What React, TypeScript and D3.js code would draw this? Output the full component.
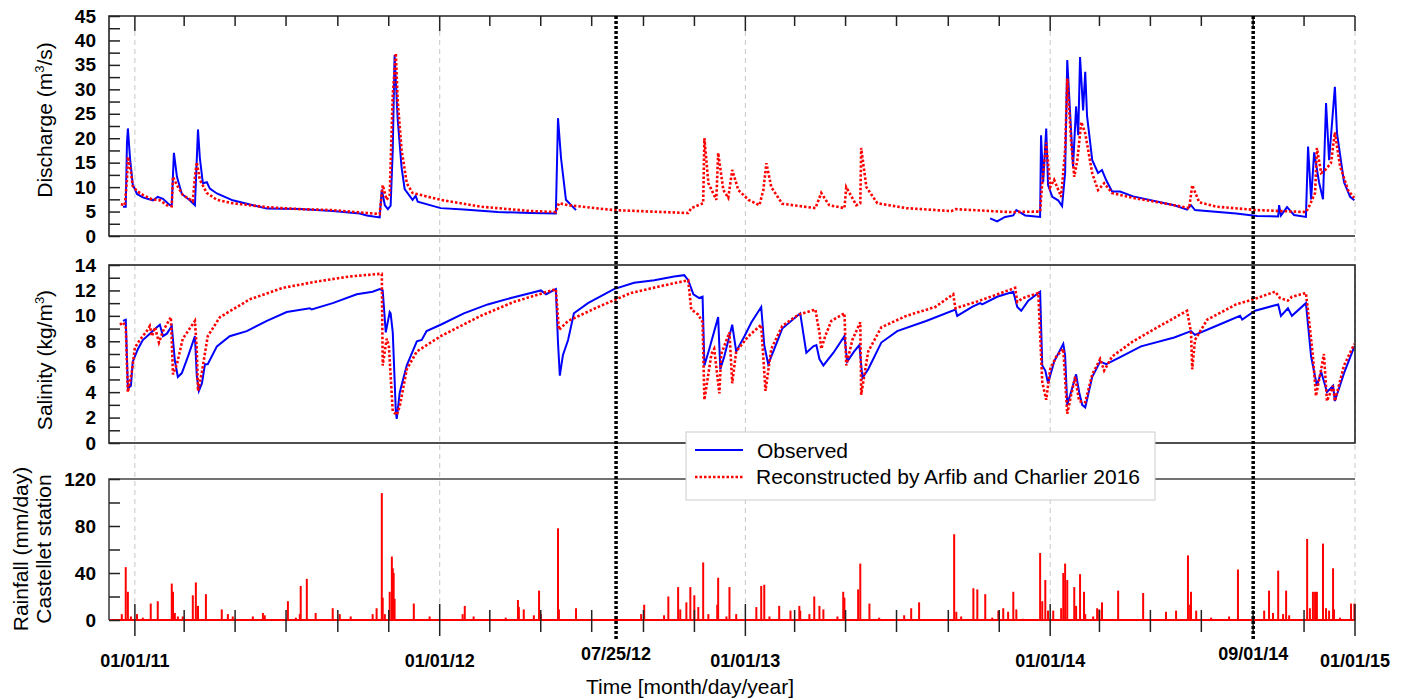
import { useEffect, useRef } from "react";
import * as d3 from "d3";

// time is stored as decimal years
const dischargeObservedA = [
  [2010.961, 6.0], [2010.970, 6.0], [2010.974, 19], [2010.977, 22], [2010.984, 15.9], [2010.993, 10.5],
  [2011.007, 8.6], [2011.026, 7.9], [2011.059, 7.3], [2011.075, 8.0], [2011.092, 7.6], [2011.115, 6.3],
  [2011.121, 6.4], [2011.128, 17], [2011.138, 12.1], [2011.154, 8.6], [2011.180, 7.3], [2011.197, 6.3],
  [2011.207, 21.8], [2011.213, 16], [2011.223, 10.8], [2011.236, 11.0], [2011.246, 9.7], [2011.269, 8.7],
  [2011.321, 7.3], [2011.387, 6.3], [2011.433, 5.6], [2011.541, 5.5], [2011.649, 5.1], [2011.738, 4.6],
  [2011.761, 4.2], [2011.803, 3.8], [2011.810, 9.5], [2011.820, 6.3], [2011.830, 5.5], [2011.839, 6.2],
  [2011.846, 17.6], [2011.852, 37], [2011.862, 24], [2011.875, 14], [2011.885, 9.6], [2011.911, 7.4],
  [2011.921, 8.2], [2011.928, 7.0], [2012.003, 5.7], [2012.079, 5.4], [2012.190, 4.9], [2012.298, 4.7],
  [2012.380, 4.6], [2012.387, 24.1], [2012.397, 15.9], [2012.413, 7.4], [2012.446, 5.3],
];

const dischargeObservedB = [
  [2013.803, 3.6], [2013.826, 3.0], [2013.852, 3.9], [2013.879, 4.2], [2013.889, 5.3], [2013.918, 4.2],
  [2013.967, 3.9], [2013.970, 20.6], [2013.977, 11.0], [2013.987, 22], [2013.993, 10.4], [2014.007, 8.0],
  [2014.026, 7.3], [2014.039, 6.1], [2014.049, 12.9], [2014.056, 36.0], [2014.069, 21], [2014.075, 14.2],
  [2014.085, 26.5], [2014.092, 20.6], [2014.098, 36.6], [2014.108, 25.7], [2014.115, 33.6], [2014.121, 24.5],
  [2014.138, 15.5], [2014.157, 12.9], [2014.170, 13.5], [2014.184, 11.4], [2014.203, 9.1], [2014.229, 9.1],
  [2014.272, 8.1], [2014.407, 6.3], [2014.449, 5.4], [2014.462, 6.3], [2014.475, 5.3], [2014.610, 4.6],
  [2014.679, 4.1], [2014.748, 4.0], [2014.751, 6.3], [2014.757, 4.2], [2014.777, 5.9], [2014.800, 4.3],
  [2014.839, 3.9], [2014.846, 18.3], [2014.856, 7.5], [2014.866, 17.1], [2014.882, 11], [2014.895, 7.5],
  [2014.905, 27.2], [2014.915, 15.5], [2014.934, 30.5], [2014.941, 21], [2014.964, 11], [2014.984, 8],
  [2014.998, 7.3],
];

const dischargeReconstructed = [
  [2010.954, 6.5], [2010.967, 6.3], [2010.974, 11.5], [2010.977, 16.2], [2010.987, 13.1], [2010.993, 10.2],
  [2011.007, 9.2], [2011.026, 8.4], [2011.056, 7.5], [2011.082, 7.3], [2011.105, 6.3], [2011.121, 6.1],
  [2011.125, 12.1], [2011.138, 10.4], [2011.157, 8.4], [2011.190, 7.1], [2011.197, 12.1], [2011.203, 15.1],
  [2011.213, 11.5], [2011.236, 8.8], [2011.269, 7.4], [2011.321, 6.7], [2011.433, 5.9], [2011.541, 5.5],
  [2011.649, 5.3], [2011.761, 4.7], [2011.803, 4.5], [2011.813, 10.4], [2011.826, 7.4], [2011.836, 8.4],
  [2011.846, 29], [2011.856, 37.4], [2011.862, 27.8], [2011.875, 17.6], [2011.892, 10.8], [2011.911, 8.8],
  [2012.003, 7.4], [2012.134, 6.0], [2012.298, 5.1], [2012.380, 4.9], [2012.390, 6.7], [2012.420, 6.3],
  [2012.570, 5.3], [2012.813, 4.7], [2012.823, 5.7], [2012.862, 6.7], [2012.866, 20], [2012.879, 10.8],
  [2012.905, 7.4], [2012.911, 17], [2012.928, 9.4], [2012.944, 7.8], [2012.957, 13.5], [2012.977, 9.4],
  [2013.010, 7.4], [2013.046, 6.3], [2013.059, 9.4], [2013.069, 14.9], [2013.085, 10], [2013.121, 6.6],
  [2013.230, 5.7], [2013.249, 8.8], [2013.275, 6.3], [2013.325, 5.7], [2013.331, 10], [2013.364, 6.3],
  [2013.377, 6.7], [2013.380, 18], [2013.397, 10], [2013.433, 6.7], [2013.528, 5.7], [2013.675, 5.1],
  [2013.689, 5.5], [2013.866, 4.9], [2013.967, 5.0], [2013.974, 11], [2013.987, 19.1], [2014.000, 10],
  [2014.013, 11.5], [2014.036, 8], [2014.049, 17.6], [2014.056, 32.2], [2014.069, 19], [2014.079, 12.1],
  [2014.089, 15.5], [2014.102, 23.3], [2014.115, 21], [2014.138, 12.8], [2014.157, 9.4], [2014.177, 10.8],
  [2014.203, 8.8], [2014.272, 7.8], [2014.407, 6.3], [2014.456, 5.7], [2014.466, 10.4], [2014.489, 6.9],
  [2014.544, 6.0], [2014.679, 5.3], [2014.839, 4.9], [2014.849, 6.0], [2014.869, 8.8], [2014.875, 18],
  [2014.889, 12.9], [2014.902, 13.5], [2014.921, 14.9], [2014.934, 21.2], [2014.951, 14.3], [2014.977, 9.4],
  [2014.997, 7.8],
];

const salinityObserved = [
  [2010.961, 9.6], [2010.970, 9.7], [2010.977, 4.3], [2010.987, 4.5], [2010.993, 6.4], [2011.010, 7.4],
  [2011.026, 8.1], [2011.049, 8.6], [2011.072, 9.1], [2011.082, 9.3], [2011.092, 8.4], [2011.105, 8.6],
  [2011.121, 9.2], [2011.131, 6.5], [2011.141, 5.2], [2011.154, 5.5], [2011.174, 6.8], [2011.197, 8.4],
  [2011.203, 5.3], [2011.210, 4.1], [2011.220, 4.7], [2011.230, 6.2], [2011.239, 6.2], [2011.269, 7.6],
  [2011.311, 8.4], [2011.367, 8.8], [2011.433, 9.6], [2011.498, 10.3], [2011.574, 10.6], [2011.580, 10.5],
  [2011.649, 11.0], [2011.728, 11.7], [2011.780, 11.9], [2011.803, 12.1], [2011.813, 12.0], [2011.823, 8.7],
  [2011.836, 10.3], [2011.839, 10.2], [2011.846, 8.7], [2011.856, 2.5], [2011.859, 1.9], [2011.869, 4.0],
  [2011.892, 6.1], [2011.925, 8.0], [2011.941, 8.1], [2011.957, 8.8], [2012.003, 9.3], [2012.079, 10.2],
  [2012.157, 10.9], [2012.233, 11.4], [2012.298, 11.8], [2012.331, 12.0], [2012.348, 11.7], [2012.380, 12.1],
  [2012.387, 7.9], [2012.393, 5.3], [2012.403, 6.9], [2012.420, 8.1], [2012.439, 10.2], [2012.485, 11.0],
  [2012.570, 12.1], [2012.636, 12.6], [2012.702, 12.8], [2012.767, 13.1], [2012.800, 13.2], [2012.813, 12.8],
  [2012.830, 11.7], [2012.849, 11.4], [2012.860, 11.5], [2012.866, 6.1], [2012.882, 7.4], [2012.911, 9.9],
  [2012.918, 5.8], [2012.931, 6.8], [2012.957, 9.3], [2012.970, 7.2], [2012.997, 8.4], [2013.020, 9.5],
  [2013.052, 10.7], [2013.062, 7.7], [2013.075, 6.2], [2013.095, 7.4], [2013.121, 9.0], [2013.180, 10.2],
  [2013.200, 7.1], [2013.223, 7.6], [2013.233, 7.7], [2013.243, 6.6], [2013.256, 6.1], [2013.289, 7.1],
  [2013.325, 8.4], [2013.334, 6.4], [2013.357, 7.2], [2013.374, 7.7], [2013.384, 5.1], [2013.403, 5.8],
  [2013.446, 7.9], [2013.498, 8.8], [2013.593, 9.6], [2013.689, 10.5], [2013.695, 10.0], [2013.744, 10.7],
  [2013.770, 11.0], [2013.777, 10.9], [2013.826, 11.5], [2013.879, 11.9], [2013.892, 10.7], [2013.905, 10.4],
  [2013.928, 11.2], [2013.967, 11.9], [2013.974, 6.1], [2013.984, 5.7], [2013.993, 4.7], [2014.013, 6.4],
  [2014.043, 7.8], [2014.049, 6.9], [2014.056, 3.0], [2014.072, 4.3], [2014.085, 5.4], [2014.095, 4.0],
  [2014.105, 3.0], [2014.115, 2.8], [2014.138, 5.2], [2014.164, 6.4], [2014.184, 6.2], [2014.233, 6.8],
  [2014.298, 7.6], [2014.407, 8.3], [2014.462, 8.8], [2014.475, 8.5], [2014.544, 9.2], [2014.623, 10.0],
  [2014.630, 9.7], [2014.672, 10.4], [2014.748, 10.9], [2014.757, 10.0], [2014.780, 10.6], [2014.793, 10.0],
  [2014.839, 11.0], [2014.856, 6.8], [2014.875, 4.5], [2014.889, 5.6], [2014.908, 4.0], [2014.928, 4.5],
  [2014.934, 3.3], [2014.964, 5.5], [2014.998, 7.6],
];

const salinityReconstructed = [
  [2010.951, 9.3], [2010.961, 9.5], [2010.970, 9.2], [2010.977, 4.0], [2010.990, 5.6], [2011.000, 7.5],
  [2011.016, 8.1], [2011.039, 8.8], [2011.049, 9.2], [2011.056, 8.4], [2011.066, 9.1], [2011.079, 7.9],
  [2011.092, 8.8], [2011.118, 9.9], [2011.125, 5.4], [2011.138, 6.2], [2011.157, 8.2], [2011.197, 9.6],
  [2011.203, 7.4], [2011.207, 4.1], [2011.220, 5.6], [2011.239, 8.4], [2011.279, 9.9], [2011.377, 11.3],
  [2011.485, 12.2], [2011.597, 12.7], [2011.705, 13.1], [2011.803, 13.3], [2011.810, 13.3], [2011.813, 6.1],
  [2011.826, 8.2], [2011.833, 7.7], [2011.846, 2.5], [2011.859, 2.2], [2011.869, 2.9], [2011.892, 5.8],
  [2011.925, 7.2], [2012.003, 8.4], [2012.134, 10.0], [2012.243, 11.1], [2012.380, 12.1], [2012.390, 8.9],
  [2012.420, 9.6], [2012.518, 10.7], [2012.626, 11.8], [2012.734, 12.4], [2012.813, 12.8], [2012.823, 10.5],
  [2012.846, 10.1], [2012.860, 9.5], [2012.866, 3.4], [2012.889, 7.0], [2012.898, 7.4], [2012.915, 3.9],
  [2012.921, 7.0], [2012.948, 8.7], [2012.957, 4.7], [2012.970, 7.2], [2013.010, 8.4], [2013.052, 9.3],
  [2013.066, 4.1], [2013.085, 7.4], [2013.121, 9.2], [2013.174, 10.1], [2013.230, 10.5], [2013.236, 9.6],
  [2013.243, 8.7], [2013.249, 7.4], [2013.262, 8.4], [2013.282, 9.6], [2013.325, 10.2], [2013.331, 6.1],
  [2013.351, 8.1], [2013.377, 9.5], [2013.380, 3.8], [2013.403, 7.2], [2013.446, 9.1], [2013.528, 10.0],
  [2013.623, 10.7], [2013.682, 11.7], [2013.689, 10.6], [2013.757, 11.1], [2013.839, 11.8], [2013.885, 12.2],
  [2013.892, 11.1], [2013.911, 11.4], [2013.961, 11.8], [2013.974, 4.8], [2013.987, 3.4], [2014.000, 5.8],
  [2014.020, 6.8], [2014.043, 7.4], [2014.056, 2.3], [2014.069, 3.8], [2014.082, 5.2], [2014.095, 3.3],
  [2014.115, 3.2], [2014.138, 5.4], [2014.164, 6.6], [2014.177, 5.7], [2014.203, 6.8], [2014.272, 8.0],
  [2014.367, 9.3], [2014.449, 10.4], [2014.462, 8.7], [2014.466, 5.8], [2014.475, 8.1], [2014.515, 9.7],
  [2014.610, 10.9], [2014.679, 11.4], [2014.738, 11.9], [2014.754, 11.4], [2014.780, 11.2], [2014.793, 11.5],
  [2014.839, 11.8], [2014.849, 9.7], [2014.862, 6.8], [2014.872, 3.7], [2014.889, 5.8], [2014.898, 7.0],
  [2014.908, 3.3], [2014.928, 4.5], [2014.934, 3.3], [2014.964, 6.1], [2014.998, 7.8],
];

const rainfall = [
  [2010.957, 5], [2010.970, 45], [2010.977, 24], [2010.987, 3], [2011.007, 5], [2011.026, 2],
  [2011.052, 14], [2011.075, 16], [2011.121, 31], [2011.125, 24], [2011.131, 6], [2011.141, 3],
  [2011.157, 3], [2011.190, 21], [2011.200, 32], [2011.207, 12], [2011.233, 22], [2011.285, 9],
  [2011.305, 5], [2011.321, 3], [2011.387, 3], [2011.420, 6], [2011.426, 4], [2011.502, 16],
  [2011.528, 2], [2011.541, 5], [2011.544, 29], [2011.564, 35], [2011.593, 6], [2011.649, 10],
  [2011.672, 5], [2011.708, 3], [2011.780, 5], [2011.793, 10], [2011.810, 108], [2011.813, 19],
  [2011.820, 5], [2011.836, 24], [2011.843, 54], [2011.846, 44], [2011.849, 40], [2011.852, 18],
  [2011.915, 14], [2011.967, 3], [2012.075, 5], [2012.082, 12], [2012.111, 3], [2012.216, 2],
  [2012.256, 17], [2012.259, 11], [2012.275, 9], [2012.308, 4], [2012.325, 25], [2012.331, 5],
  [2012.387, 78], [2012.390, 9], [2012.446, 10], [2012.659, 5], [2012.669, 13], [2012.734, 4],
  [2012.748, 20], [2012.780, 28], [2012.787, 9], [2012.807, 15], [2012.820, 28], [2012.833, 21],
  [2012.846, 11], [2012.862, 49], [2012.879, 5], [2012.908, 13], [2012.911, 36], [2012.938, 3],
  [2012.948, 28], [2012.970, 5], [2013.036, 11], [2013.052, 29], [2013.062, 30], [2013.079, 3],
  [2013.111, 12], [2013.148, 8], [2013.177, 12], [2013.180, 8], [2013.210, 5], [2013.226, 20],
  [2013.243, 12], [2013.256, 9], [2013.302, 3], [2013.321, 24], [2013.325, 19], [2013.370, 26],
  [2013.377, 48], [2013.407, 14], [2013.439, 2], [2013.521, 4], [2013.544, 10], [2013.570, 15],
  [2013.685, 73], [2013.692, 7], [2013.708, 3], [2013.748, 27], [2013.761, 26], [2013.787, 22],
  [2013.810, 2], [2013.830, 8], [2013.846, 10], [2013.862, 7], [2013.879, 24], [2013.889, 9],
  [2013.911, 1], [2013.967, 57], [2013.974, 16], [2013.984, 34], [2013.993, 8], [2014.010, 8],
  [2014.036, 10], [2014.043, 40], [2014.049, 48], [2014.056, 34], [2014.079, 28], [2014.085, 12],
  [2014.098, 39], [2014.111, 24], [2014.115, 5], [2014.141, 3], [2014.154, 10], [2014.161, 9],
  [2014.170, 15], [2014.223, 25], [2014.305, 23], [2014.380, 7], [2014.413, 8], [2014.452, 55],
  [2014.459, 13], [2014.462, 24], [2014.479, 8], [2014.528, 2], [2014.587, 3], [2014.616, 43],
  [2014.702, 8], [2014.718, 25], [2014.731, 6], [2014.748, 42], [2014.764, 5], [2014.774, 25],
  [2014.784, 4], [2014.843, 69], [2014.852, 10], [2014.862, 24], [2014.869, 24], [2014.875, 24],
  [2014.895, 65], [2014.905, 10], [2014.915, 8], [2014.928, 44], [2014.931, 9], [2014.951, 2],
  [2014.987, 14], [2014.998, 14],
];

// vertical markers (decimal year, label)
const markers = [[2012.577, "07/25/12"], [2014.666, "09/01/14"]];
const yearLabels = ["01/01/11", "01/01/12", "01/01/13", "01/01/14", "01/01/15"];

const FONT = "'Liberation Sans', Arial, Helvetica, sans-serif";
const BLUE = "#0000ff";
const RED = "#ff0000";
const AXIS = "#222";

// decimal year -> Date
function toDate(t) {
  const y = Math.floor(t);
  const s = Date.UTC(y, 0, 1);
  const e = Date.UTC(y + 1, 0, 1);
  return new Date(s + (t - y) * (e - s));
}

function App() {
  const svgRef = useRef(null);

  useEffect(() => {
    const svg = d3.select(svgRef.current);
    svg.selectAll("*").remove();

    const left = 109, right = 1355;
    const q = { top: 16, bottom: 236 };   // discharge panel
    const s = { top: 265, bottom: 443 };  // salinity panel
    const r = { top: 479, bottom: 620 };  // rainfall panel

    const x = d3.scaleUtc()
      .domain([new Date(Date.UTC(2010, 11, 1)), new Date(Date.UTC(2015, 0, 1))])
      .range([left, right]);
    const yQ = d3.scaleLinear().domain([0, 45]).range([q.bottom, q.top]);
    const yS = d3.scaleLinear().domain([0, 14]).range([s.bottom, s.top]);
    const yR = d3.scaleLinear().domain([0, 120]).range([r.bottom, r.top]);

    const monthTicks = x.ticks(d3.utcMonth.every(2));
    const yearTicks = monthTicks.filter(d => d.getUTCMonth() === 0);

    // light dashed grid lines at each new year
    svg.append("g").selectAll("line").data(yearTicks).enter().append("line")
      .attr("x1", d => x(d)).attr("x2", d => x(d))
      .attr("y1", q.top + 15).attr("y2", 604)
      .attr("stroke", "#c8c8c8").attr("stroke-width", 1)
      .attr("stroke-dasharray", "5,4");

    const line = (yScale) => d3.line()
      .x(d => x(toDate(d[0])))
      .y(d => yScale(d[1]));

    // Discharge
    [dischargeObservedA, dischargeObservedB].forEach(seg => {
      svg.append("path").attr("d", line(yQ)(seg))
        .attr("fill", "none").attr("stroke", BLUE).attr("stroke-width", 2);
    });
    svg.append("path").attr("d", line(yQ)(dischargeReconstructed))
      .attr("fill", "none").attr("stroke", RED).attr("stroke-width", 2.6)
      .attr("stroke-dasharray", "2.5,2");

    // Salinity
    svg.append("path").attr("d", line(yS)(salinityObserved))
      .attr("fill", "none").attr("stroke", BLUE).attr("stroke-width", 2);
    svg.append("path").attr("d", line(yS)(salinityReconstructed))
      .attr("fill", "none").attr("stroke", RED).attr("stroke-width", 2.6)
      .attr("stroke-dasharray", "2.5,2");

    // Rainfall bars
    svg.append("line")
      .attr("x1", left).attr("x2", right).attr("y1", yR(0)).attr("y2", yR(0))
      .attr("stroke", RED).attr("stroke-width", 2);
    svg.append("g").selectAll("line").data(rainfall).enter().append("line")
      .attr("x1", d => x(toDate(d[0]))).attr("x2", d => x(toDate(d[0])))
      .attr("y1", yR(0)).attr("y2", d => yR(d[1]))
      .attr("stroke", RED).attr("stroke-width", 2);

    // Frames
    const frame = svg.append("g").attr("fill", "none").attr("stroke", AXIS).attr("stroke-width", 1.6);
    frame.append("path").attr("d", `M${right},${q.top}H${left}V${q.bottom}H${right}`);
    frame.append("rect").attr("x", left).attr("y", s.top)
      .attr("width", right - left).attr("height", s.bottom - s.top);
    frame.append("path").attr("d", `M${right},${r.top}H${left}V${r.bottom}`)
      .attr("stroke", "#444");

    // top ticks of discharge panel
    svg.append("g").selectAll("line").data(monthTicks).enter().append("line")
      .attr("x1", d => x(d)).attr("x2", d => x(d))
      .attr("y1", q.top).attr("y2", d => q.top + (d.getUTCMonth() === 0 ? 15 : 10))
      .attr("stroke", AXIS).attr("stroke-width", 1.5);

    // bottom time axis ticks
    svg.append("g").selectAll("line").data(monthTicks).enter().append("line")
      .attr("x1", d => x(d)).attr("x2", d => x(d))
      .attr("y1", d => d.getUTCMonth() === 0 ? 604 : 610)
      .attr("y2", d => d.getUTCMonth() === 0 ? 636 : 632)
      .attr("stroke", AXIS).attr("stroke-width", 1.5);

    // y axes
    const yAxis = (scale, values, major) => g => {
      g.attr("transform", `translate(${left},0)`)
        .call(d3.axisLeft(scale).tickValues(values)
          .tickSizeInner(-11).tickSizeOuter(0).tickPadding(13)
          .tickFormat(d => (Math.abs(d % major) < 1e-9 ? d : "")));
      g.select(".domain").remove();
      g.selectAll("line").attr("stroke", AXIS).attr("stroke-width", 1.5);
      g.selectAll("text").attr("font-family", FONT).attr("font-size", 19)
        .attr("font-weight", "bold").attr("fill", "#000");
    };
    svg.append("g").call(yAxis(yQ, d3.range(0, 45.01, 2.5), 5));
    svg.append("g").call(yAxis(yS, d3.range(0, 14.01, 1), 2));
    svg.append("g").call(yAxis(yR, d3.range(0, 120.01, 20), 40));

    // vertical event markers
    markers.forEach(([t]) => {
      svg.append("line")
        .attr("x1", x(toDate(t))).attr("x2", x(toDate(t)))
        .attr("y1", q.top).attr("y2", 641)
        .attr("stroke", "#000").attr("stroke-width", 3.5)
        .attr("stroke-dasharray", "3,2");
    });

    // x labels
    const lab = svg.append("g").attr("font-family", FONT).attr("font-weight", "bold")
      .attr("font-size", 18).attr("text-anchor", "middle");
    lab.selectAll(".yl").data(yearTicks).enter().append("text")
      .attr("x", d => x(d)).attr("y", 667).text((d, i) => yearLabels[i]);
    markers.forEach(([t, label]) => {
      lab.append("text").attr("x", x(toDate(t))).attr("y", 660).text(label);
    });

    // titles
    const titles = svg.append("g").attr("font-family", FONT).attr("font-size", 21)
      .attr("text-anchor", "middle").attr("fill", "#000");
    const discharge = titles.append("text").attr("transform", "translate(52,120) rotate(-90)");
    discharge.append("tspan").text("Discharge (m");
    discharge.append("tspan").attr("font-size", 13).attr("dy", -8).text("3");
    discharge.append("tspan").attr("dy", 8).text("/s)");
    const sal = titles.append("text").attr("transform", "translate(52,360) rotate(-90)");
    sal.append("tspan").text("Salinity (kg/m");
    sal.append("tspan").attr("font-size", 13).attr("dy", -8).text("3");
    sal.append("tspan").attr("dy", 8).text(")");
    titles.append("text").attr("transform", "translate(28,549) rotate(-90)").text("Rainfall (mm/day)");
    titles.append("text").attr("transform", "translate(51,549) rotate(-90)").text("Castellet station");
    titles.append("text").attr("x", 690).attr("y", 694).text("Time [month/day/year]");

    // legend
    const lg = svg.append("g");
    lg.append("rect").attr("x", 686).attr("y", 432).attr("width", 469).attr("height", 68)
      .attr("fill", "#fff").attr("stroke", "#cccccc").attr("stroke-width", 1);
    lg.append("line").attr("x1", 695).attr("x2", 743).attr("y1", 450).attr("y2", 450)
      .attr("stroke", BLUE).attr("stroke-width", 2);
    lg.append("line").attr("x1", 695).attr("x2", 743).attr("y1", 477).attr("y2", 477)
      .attr("stroke", RED).attr("stroke-width", 2.6).attr("stroke-dasharray", "2.5,2");
    lg.append("text").attr("x", 757).attr("y", 458).attr("font-family", FONT)
      .attr("font-size", 21).text("Observed");
    lg.append("text").attr("x", 756).attr("y", 484).attr("font-family", FONT)
      .attr("font-size", 21).text("Reconstructed by Arfib and Charlier 2016");
  }, []);

  return (
    <div style={{ position: "absolute", left: 0, top: 0 }}>
      <svg ref={svgRef} width={1408} height={699} style={{ display: "block", background: "#fff" }}></svg>
    </div>
  );
}

export default App;
